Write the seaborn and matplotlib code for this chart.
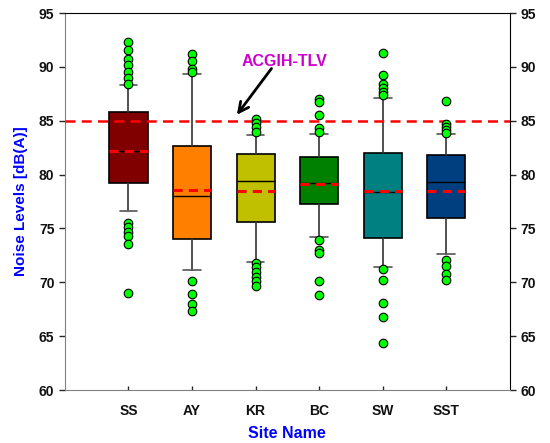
import matplotlib
matplotlib.use("Agg")
import matplotlib.pyplot as plt
import seaborn as sns
import pandas as pd
import numpy as np

# Box statistics
sites = ["SS", "AY", "KR", "BC", "SW", "SST"]
q1 = [79.2, 74.0, 75.6, 77.3, 74.1, 76.0]
median = [82.2, 78.0, 79.4, 79.2, 78.4, 79.3]
q3 = [85.8, 82.7, 81.9, 81.6, 82.0, 81.8]
mean = [82.2, 78.6, 78.5, 79.1, 78.5, 78.5]
whis_low = [76.6, 71.1, 71.9, 74.2, 71.4, 72.6]
whis_high = [88.3, 89.3, 83.7, 83.8, 87.1, 83.8]
outliers = {
    "SS": [92.3, 91.6, 90.7, 90.2, 89.5, 89.0, 88.4, 75.5, 75.1, 74.7, 74.3, 73.6, 69.0],
    "AY": [91.2, 90.5, 89.8, 89.5, 70.1, 68.9, 68.0, 67.3],
    "KR": [85.2, 84.8, 84.4, 84.0, 71.8, 71.4, 71.0, 70.5, 70.1, 69.7],
    "BC": [87.0, 86.7, 85.5, 84.3, 84.0, 73.9, 73.0, 72.7, 70.1, 68.8],
    "SW": [91.3, 89.2, 88.4, 88.0, 87.7, 87.4, 71.2, 70.2, 68.1, 66.8, 64.4],
    "SST": [86.8, 84.7, 84.4, 84.1, 83.9, 72.1, 71.5, 70.8, 70.2],
}
box_colors = ["#800000", "#FF8000", "#C0C000", "#008000", "#008080", "#003F7F"]
tlv = 85

sns.set_style("ticks")
plt.rcParams["font.family"] = ["Liberation Sans", "DejaVu Sans"]

fig = plt.figure(figsize=(5.5, 4.43), dpi=100)
ax = fig.add_axes([0.118, 0.1196, 0.809, 0.851])

positions = np.arange(len(sites))
stats = []
for i, s in enumerate(sites):
    stats.append({"label": s, "q1": q1[i], "med": median[i], "q3": q3[i],
                  "whislo": whis_low[i], "whishi": whis_high[i], "mean": mean[i],
                  "fliers": []})

bp = ax.bxp(stats, positions=positions, widths=0.6, patch_artist=True,
            showfliers=False, showmeans=False,
            boxprops=dict(edgecolor="black", linewidth=1.2),
            medianprops=dict(color="black", linewidth=1),
            whiskerprops=dict(color="#333333", linewidth=1.2),
            capprops=dict(color="#555555", linewidth=1.2), capwidths=0.28)
for patch, c in zip(bp["boxes"], box_colors):
    patch.set_facecolor(c)

# mean lines (red dashed)
ax.hlines(mean, positions - 0.3, positions + 0.3, colors="red",
          linestyles=(0, (3, 2)), linewidth=2.2, zorder=4)

# outliers
rows = [(sites.index(s), v) for s in sites for v in outliers[s]]
df = pd.DataFrame(rows, columns=["pos", "value"])
sns.scatterplot(data=df, x="pos", y="value", ax=ax, color="#00FF00",
                edgecolor="black", linewidth=0.8, s=38, zorder=5, legend=False)

# TLV reference line
ax.axhline(tlv, color="red", linestyle=(0, (4, 2.5)), linewidth=1.8, zorder=3)
ax.text(2.46, 90.5, "ACGIH-TLV", color="#CC00CC", fontsize=11.5,
        fontweight="bold", ha="center", va="center")
ax.annotate("", xy=(1.705, 85.55), xytext=(2.25, 89.85),
            arrowprops=dict(arrowstyle="->", color="black", lw=2,
                            shrinkA=0, shrinkB=0, mutation_scale=18))

ax.set_xlim(-1, 6)
ax.set_ylim(60, 95)
ax.set_xticks(positions)
ax.set_xticklabels(sites)
ax.set_yticks(np.arange(60, 96, 5))
ax.tick_params(axis="y", which="both", direction="out", length=4, width=1,
               labelsize=10, right=True, labelright=True, left=True,
               labelcolor="#111111")
ax.tick_params(axis="x", direction="in", length=3, width=1, labelsize=10,
               pad=10, labelcolor="#111111")
for lab in ax.get_xticklabels() + ax.get_yticklabels():
    lab.set_fontweight("bold")
for t in ax.yaxis.get_major_ticks():
    t.label2.set_fontweight("bold")

for side in ["top", "right", "left", "bottom"]:
    ax.spines[side].set_visible(True)
ax.spines["left"].set_color("#808080")
ax.spines["bottom"].set_color("#808080")
ax.spines["top"].set_color("black")
ax.spines["right"].set_color("black")
ax.grid(False)

ax.set_xlabel("Site Name", color="#0000FF", fontsize=11.5, fontweight="bold", labelpad=6)
ax.set_ylabel("Noise Levels [dB(A)]", color="#0000FF", fontsize=11, fontweight="bold", labelpad=8)

fig.savefig("out.png", dpi=100)
